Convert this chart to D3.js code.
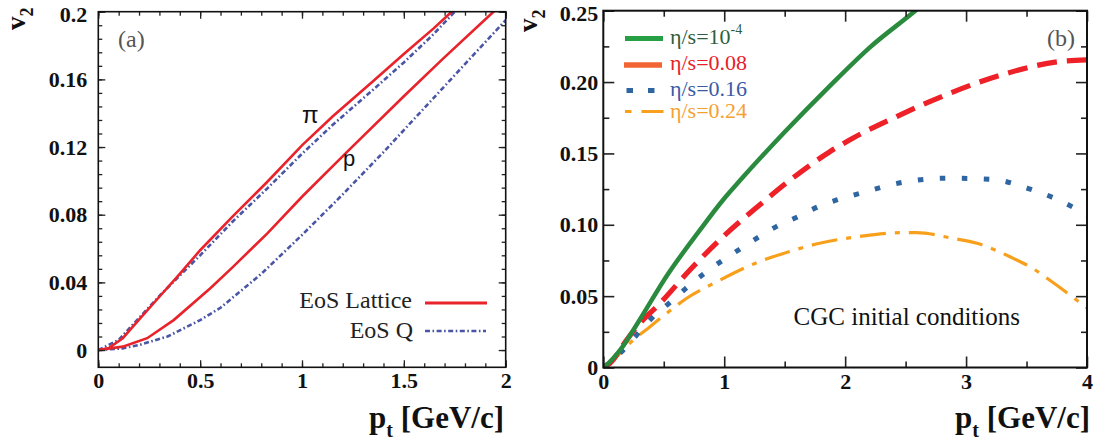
<!DOCTYPE html>
<html>
<head>
<meta charset="utf-8">
<script src="https://cdn.jsdelivr.net/npm/d3@7"></script>
<style>
  body { margin: 0; background: #fff; }
  svg text { font-family: "Liberation Serif", "DejaVu Serif", "Times New Roman", Times, serif; }
  svg text.sans { font-family: "Liberation Sans", Arial, sans-serif; }
</style>
</head>
<body>
<svg id="chart" width="1093" height="441"></svg>
<script>
// ---- panel (a): v2(pt), pions and protons, two EoS ----
const pionLattice = [[0,0],[0.05,0.001],[0.12,0.007],[0.2,0.018],[0.3,0.0315],[0.4,0.045],[0.5,0.059],[0.66,0.079],[0.83,0.0995],[1.0,0.121],[1.15,0.138],[1.35,0.159],[1.5,0.175],[1.645,0.19],[1.735,0.2],[1.8,0.207]];
const pionQ = [[0,0],[0.1,0.006],[0.2,0.019],[0.3,0.032],[0.4,0.044],[0.5,0.056],[0.66,0.076],[0.83,0.0956],[1.0,0.116],[1.15,0.133],[1.35,0.154],[1.5,0.170],[1.64,0.186],[1.75,0.2],[1.8,0.206]];
const protonLattice = [[0,0],[0.12,0.002],[0.24,0.007],[0.37,0.0177],[0.55,0.0365],[0.66,0.049],[0.83,0.069],[1.0,0.0906],[1.22,0.117],[1.5,0.150],[1.69,0.172],[1.94,0.2],[2.0,0.206]];
const protonQ = [[0,0],[0.12,0.001],[0.2,0.003],[0.34,0.008],[0.5,0.0177],[0.6,0.025],[0.8,0.045],[1.0,0.068],[1.2,0.092],[1.4,0.117],[1.6,0.143],[1.8,0.169],[2.0,0.195]];

const xTicksA = [0, 0.5, 1, 1.5, 2];
const xTickLabelsA = ["0", "0.5", "1", "1.5", "2"];
const yTicksA = [0, 0.04, 0.08, 0.12, 0.16, 0.2];
const yTickLabelsA = ["0", "0.04", "0.08", "0.12", "0.16", "0.2"];
const legendA = ["EoS Lattice", "EoS Q"];

// ---- panel (b): v2(pt) for several eta/s, CGC initial conditions ----
const eta0 = [[0,0],[0.03,0.002],[0.14,0.0123],[0.3,0.0333],[0.52,0.0636],[0.8,0.0964],[0.99,0.1174],[1.13,0.131],[1.5,0.165],[1.87,0.197],[2.2,0.224],[2.58,0.25],[2.65,0.255]];
const eta008 = [[0,0],[0.055,0.003],[0.193,0.0193],[0.303,0.031],[0.469,0.045],[0.716,0.0683],[1.02,0.094],[1.295,0.114],[1.57,0.133],[1.87,0.151],[2.07,0.161],[2.43,0.176],[2.89,0.193],[3.33,0.206],[3.77,0.2143],[4.0,0.2155]];
const eta016 = [[0,0],[0.16,0.0118],[0.284,0.0235],[0.408,0.0352],[0.543,0.045],[0.683,0.0555],[0.826,0.0653],[0.978,0.0746],[1.13,0.083],[1.28,0.0912],[1.43,0.0987],[1.61,0.1057],[1.777,0.1127],[1.93,0.1174],[2.12,0.122],[2.48,0.1298],[2.84,0.1326],[3.2,0.1319],[3.55,0.1244],[3.72,0.119],[4.0,0.107]];
const eta024 = [[0,0],[0.11,0.0076],[0.248,0.0193],[0.386,0.0286],[0.524,0.038],[0.69,0.0485],[0.937,0.06],[1.27,0.0735],[1.57,0.082],[1.76,0.0865],[2.09,0.0915],[2.48,0.0945],[2.59,0.0945],[2.89,0.0905],[3.09,0.087],[3.39,0.0765],[3.55,0.0695],[3.69,0.0613],[4.0,0.0417]];

const xTicksB = [0, 1, 2, 3, 4];
const yTicksB = [0, 0.05, 0.10, 0.15, 0.20, 0.25];
const yTickLabelsB = ["0", "0.05", "0.10", "0.15", "0.20", "0.25"];
const legendB = ["η/s=10", "η/s=0.08", "η/s=0.16", "η/s=0.24"];

const svg = d3.select("#chart");
svg.append("rect").attr("width", 1093).attr("height", 441).attr("fill", "#fff");

const xA = d3.scaleLinear().domain([0, 2]).range([98.3, 505.7]);
const yA = d3.scaleLinear().domain([-0.0102, 0.2]).range([367.3, 11.7]);
const xB = d3.scaleLinear().domain([0, 4]).range([603.3, 1087]);
const yB = d3.scaleLinear().domain([0, 0.25]).range([367.5, 10.7]);

// frame + ticks pointing inward on all four sides
function drawFrame(x, y, o) {
  const [x0, x1] = x.range(), [y0, y1] = y.range();
  const g = svg.append("g");
  const style = a => a.call(s => s.select(".domain").remove())
    .call(s => s.selectAll("line").attr("stroke", "#222").attr("stroke-width", o.tw));

  g.append("g").attr("transform", `translate(0,${y0})`)
    .call(d3.axisBottom(x).tickValues(o.xMinor).tickSizeInner(-o.minor).tickSizeOuter(0).tickFormat("")).call(style);
  g.append("g").attr("transform", `translate(0,${y1})`)
    .call(d3.axisTop(x).tickValues(o.xMinor).tickSizeInner(-o.minor).tickSizeOuter(0).tickFormat("")).call(style);
  g.append("g").attr("transform", `translate(${x0},0)`)
    .call(d3.axisLeft(y).tickValues(o.yMinor).tickSizeInner(-o.minor).tickSizeOuter(0).tickFormat("")).call(style);
  g.append("g").attr("transform", `translate(${x1},0)`)
    .call(d3.axisRight(y).tickValues(o.yMinor).tickSizeInner(-o.minor).tickSizeOuter(0).tickFormat("")).call(style);

  const bx = g.append("g").attr("transform", `translate(0,${y0})`)
    .call(d3.axisBottom(x).tickValues(o.xTicks).tickSizeInner(-o.major).tickSizeOuter(0)
      .tickPadding(o.xPad).tickFormat((d, i) => o.xLabels[i])).call(style);
  g.append("g").attr("transform", `translate(0,${y1})`)
    .call(d3.axisTop(x).tickValues(o.xTicks).tickSizeInner(-o.major).tickSizeOuter(0).tickFormat("")).call(style);
  const ly = g.append("g").attr("transform", `translate(${x0},0)`)
    .call(d3.axisLeft(y).tickValues(o.yTicks).tickSizeInner(-o.major).tickSizeOuter(0)
      .tickPadding(o.yPad).tickFormat((d, i) => o.yLabels[i])).call(style);
  g.append("g").attr("transform", `translate(${x1},0)`)
    .call(d3.axisRight(y).tickValues(o.yTicks).tickSizeInner(-o.major).tickSizeOuter(0).tickFormat("")).call(style);

  [bx, ly].forEach(a => a.selectAll("text")
    .attr("font-weight", "bold").attr("font-size", 22).attr("fill", "#111"));
  // topmost label sits a little lower so it stays inside the page
  ly.selectAll("text").filter(d => d === o.yTicks[o.yTicks.length - 1]).attr("y", 3);

  g.append("rect").attr("x", x0).attr("y", y1).attr("width", x1 - x0).attr("height", y0 - y1)
    .attr("fill", "none").attr("stroke", "#111").attr("stroke-width", o.fw);
}

function clipFor(id, x, y) {
  const [x0, x1] = x.range(), [y0, y1] = y.range();
  svg.append("clipPath").attr("id", id).append("rect")
    .attr("x", x0).attr("y", y1).attr("width", x1 - x0).attr("height", y0 - y1);
}

function axisTitles(xRight, vx, vy) {
  const t = svg.append("text").attr("x", xRight).attr("y", 428)
    .attr("text-anchor", "end").attr("font-weight", "bold").attr("font-size", 31).attr("fill", "#111");
  t.append("tspan").text("p");
  t.append("tspan").attr("dy", 9).attr("font-size", 20).text("t");
  t.append("tspan").attr("dy", -9).text(" [GeV/c]");

  const v = svg.append("text").attr("transform", `translate(${vx},${vy}) rotate(-90)`)
    .attr("font-weight", "bold").attr("font-size", 27).attr("fill", "#111");
  v.append("tspan").text("v");
  v.append("tspan").attr("dy", 8).attr("font-size", 18).text("2");
}

// ---------------- panel (a) ----------------
clipFor("clipA", xA, yA);
const lineA = d3.line().x(d => xA(d[0])).y(d => yA(d[1]));
const gA = svg.append("g").attr("clip-path", "url(#clipA)");
const redA = "#e8232b", blueA = "#4a55a6";
[protonQ, pionQ].forEach(s => gA.append("path").attr("d", lineA(s)).attr("fill", "none")
  .attr("stroke", blueA).attr("stroke-width", 2.6).attr("stroke-dasharray", "5,2.5,1.6,2.5"));
[protonLattice, pionLattice].forEach(s => gA.append("path").attr("d", lineA(s)).attr("fill", "none")
  .attr("stroke", redA).attr("stroke-width", 2.6));

drawFrame(xA, yA, {
  xTicks: xTicksA, xLabels: xTickLabelsA, yTicks: yTicksA, yLabels: yTickLabelsA,
  xMinor: d3.range(0, 2.001, 0.1), yMinor: d3.range(0, 0.2001, 0.008),
  major: 7, minor: 4, tw: 1.3, fw: 1.6, xPad: 5, yPad: 11
});

svg.append("text").attr("x", 118).attr("y", 47).attr("font-size", 24).attr("fill", "#555").text("(a)");
svg.append("text").attr("class", "sans").attr("x", 302).attr("y", 123)
  .attr("font-size", 24).attr("fill", "#111").text("π");
svg.append("text").attr("class", "sans").attr("x", 343).attr("y", 166)
  .attr("font-size", 22).attr("fill", "#111").text("p");

// legend (a)
svg.append("text").attr("x", 412).attr("y", 308).attr("text-anchor", "end")
  .attr("font-size", 24).attr("fill", "#222").text(legendA[0]);
svg.append("line").attr("x1", 425).attr("x2", 487).attr("y1", 303).attr("y2", 303)
  .attr("stroke", redA).attr("stroke-width", 2.8);
svg.append("text").attr("x", 413).attr("y", 338).attr("text-anchor", "end")
  .attr("font-size", 24).attr("fill", "#222").text(legendA[1]);
svg.append("line").attr("x1", 425).attr("x2", 486).attr("y1", 331).attr("y2", 331)
  .attr("stroke", blueA).attr("stroke-width", 2.6).attr("stroke-dasharray", "5,2.5,1.6,2.5");

axisTitles(504, 25, 30);

// ---------------- panel (b) ----------------
clipFor("clipB", xB, yB);
const lineB = d3.line().curve(d3.curveMonotoneX).x(d => xB(d[0])).y(d => yB(d[1]));
const gB = svg.append("g").attr("clip-path", "url(#clipB)");
const seriesB = [
  { data: eta024, color: "#f8a01c", width: 3.2, dash: "26,9,5,9" },
  { data: eta016, color: "#2f66a2", width: 5, dash: "5.5,16.5" },
  { data: eta008, color: "#ee2128", width: 5.2, dash: "20,10" },
  { data: eta0, color: "#2a8a3e", width: 4.5, dash: null }
];
seriesB.forEach(s => gB.append("path").attr("d", lineB(s.data)).attr("fill", "none")
  .attr("stroke", s.color).attr("stroke-width", s.width).attr("stroke-dasharray", s.dash));

drawFrame(xB, yB, {
  xTicks: xTicksB, xLabels: xTicksB.map(String), yTicks: yTicksB, yLabels: yTickLabelsB,
  xMinor: d3.range(0.5, 4, 1), yMinor: d3.range(0.025, 0.25, 0.05),
  major: 11, minor: 6, tw: 1.6, fw: 2, xPad: 6, yPad: 5
});

svg.append("text").attr("x", 1047).attr("y", 46).attr("font-size", 24).attr("fill", "#555").text("(b)");
svg.append("text").attr("x", 1020).attr("y", 325).attr("text-anchor", "end")
  .attr("font-size", 25).attr("fill", "#111").text("CGC initial conditions");

// legend (b)
const legY = [38.5, 65, 90.5, 111.5];
const legTextY = [44, 70, 96, 118];
const legTextColor = ["#2f5e3e", "#e8202a", "#3a5aa6", "#f5a033"];
svg.append("line").attr("x1", 625).attr("x2", 663).attr("y1", legY[0]).attr("y2", legY[0])
  .attr("stroke", "#27a045").attr("stroke-width", 5);
svg.append("line").attr("x1", 624).attr("x2", 662).attr("y1", legY[1]).attr("y2", legY[1])
  .attr("stroke", "#f26532").attr("stroke-width", 5.5);
svg.append("line").attr("x1", 626.5).attr("x2", 656).attr("y1", legY[2]).attr("y2", legY[2])
  .attr("stroke", "#2f66a2").attr("stroke-width", 5).attr("stroke-dasharray", "6.5,15");
svg.append("line").attr("x1", 625).attr("x2", 663.5).attr("y1", legY[3]).attr("y2", legY[3])
  .attr("stroke", "#f8a01c").attr("stroke-width", 3).attr("stroke-dasharray", "6.5,10,22");
legendB.forEach((lab, i) => {
  const t = svg.append("text").attr("x", 670).attr("y", legTextY[i])
    .attr("font-size", 22).attr("fill", legTextColor[i]).text(lab);
  if (i === 0) t.append("tspan").attr("dy", -10).attr("font-size", 14).text("-4");
});

axisTitles(1090, 537, 32);
</script>
</body>
</html>
